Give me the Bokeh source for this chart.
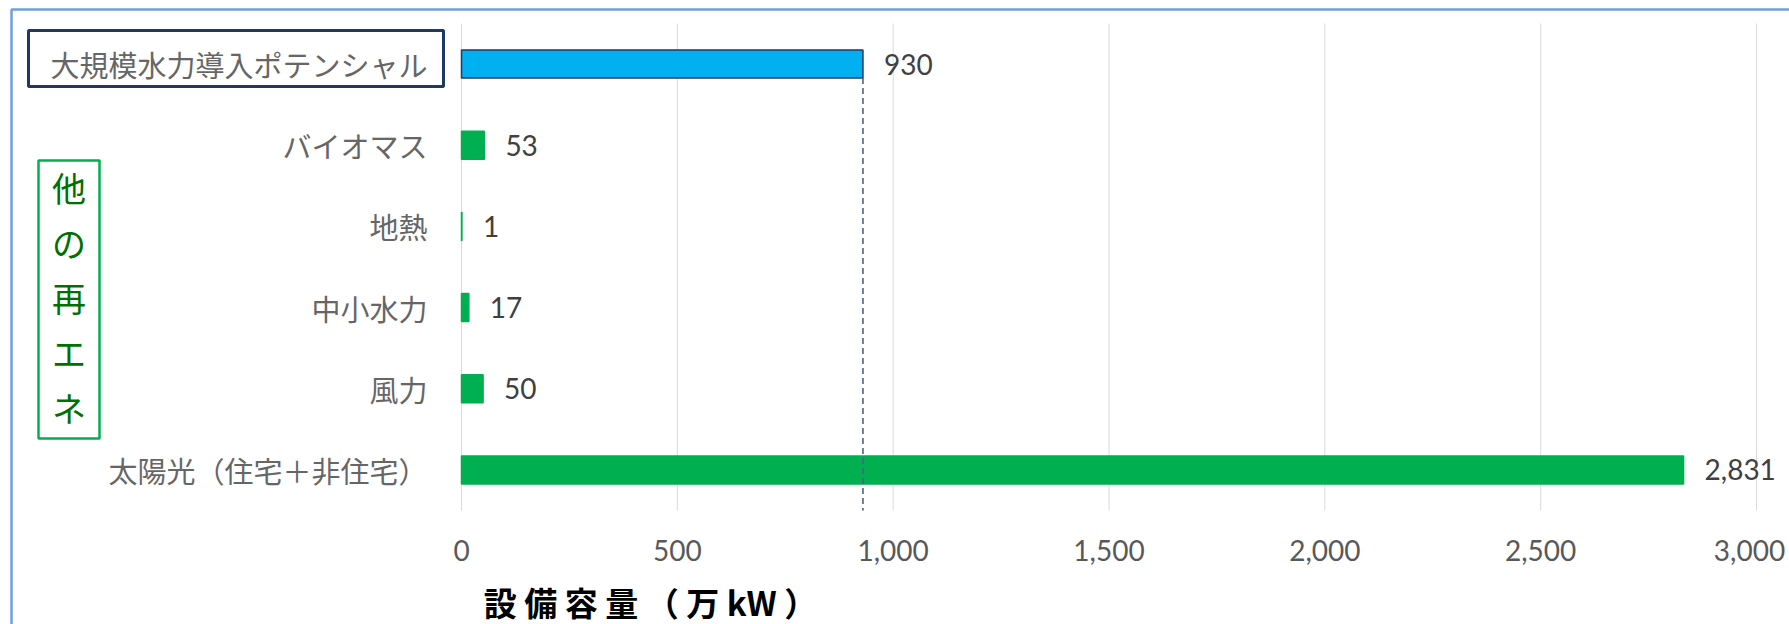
from bokeh.plotting import figure
from bokeh.models import ColumnDataSource, Range1d, LabelSet, Label, BoxAnnotation
from bokeh.core.properties import value
from bokeh.embed import file_html
from bokeh.resources import INLINE

# ---- data ----
categories = ["大規模水力導入ポテンシャル", "バイオマス", "地熱", "中小水力", "風力", "太陽光（住宅＋非住宅）"]
values = [930, 53, 1, 17, 50, 2831]
bar_colors = ["#00B0F0", "#00B050", "#00B050", "#00B050", "#00B050", "#00B050"]
x_ticks = [0, 500, 1000, 1500, 2000, 2500, 3000]
group_label = "他の再エネ"
x_title = "設 備 容 量 （ 万 kW ）"

# ---- layout constants (canvas pixels) ----
W, H = 1789, 624
FRAME_L, FRAME_R = 461, 1756      # pixel position of x=0 and x=3000
FRAME_T, FRAME_B = 23, 510        # top / bottom of plotting area
X_MAX = 3000
n = len(categories)
PX = (FRAME_R - FRAME_L) / X_MAX  # pixels per data unit
BAND = (FRAME_B - FRAME_T) / n    # pixels per category band


def dx(cx):
    """canvas x pixel -> data x"""
    return (cx - FRAME_L) / PX


def dy(cy):
    """canvas y pixel -> data y (category bands 0..n)"""
    return (FRAME_B - cy) / BAND


NUM_FONT = "Lato"
JP_FONT = "Noto Sans CJK JP"
BAR_H = 0.345

p = figure(width=W, height=H, output_backend="svg", toolbar_location=None,
           x_range=Range1d(dx(0), dx(W)), y_range=Range1d(dy(H), dy(0)),
           x_axis_type=None, y_axis_type=None,
           min_border=0, min_border_left=0, min_border_right=0,
           min_border_top=0, min_border_bottom=0)
p.outline_line_color = None
p.background_fill_color = "white"
p.border_fill_color = "white"

ypos = [n - 0.5 - i for i in range(n)]

src = ColumnDataSource(dict(
    y=ypos,
    cat=categories,
    val=values,
    color=bar_colors,
    line=["#1F3864"] + ["#00B050"] * (n - 1),
    lbl=[f"{v:,}" for v in values],
))

# vertical grid lines at the tick values
p.segment(x0=x_ticks, x1=x_ticks, y0=[0] * len(x_ticks), y1=[n] * len(x_ticks),
          line_color="#D9D9D9", line_width=1)

# x tick labels (the last one nudged left so it stays inside the chart edge)
tick_src = ColumnDataSource(dict(
    x=x_ticks,
    y=[dy(550)] * len(x_ticks),
    t=[f"{t:,}" for t in x_ticks],
    off=[0] * (len(x_ticks) - 1) + [-7],
))
p.text(x="x", y="y", text="t", source=tick_src, text_align="center",
       text_baseline="middle", x_offset="off",
       text_font=value(NUM_FONT), text_font_size="28px", text_color="#595959")

# category labels
p.text(x=dx(427), y="y", text="cat", source=src, text_align="right",
       text_baseline="middle", text_font=value(JP_FONT),
       text_font_size="29px", text_color="#666666")

# bars
p.hbar(y="y", left=0, right="val", height=BAR_H, fill_color="color",
       line_color="line", line_width=1.5, source=src)

# dashed reference line from the potential bar down to the axis
p.segment(x0=[values[0]], x1=[values[0]], y0=[ypos[0] - BAR_H / 2], y1=[0],
          line_color="#4F6180", line_width=1.6, line_dash="6 4")

# value labels
p.add_layout(LabelSet(x="val", y="y", text="lbl", source=src, x_offset=21,
                      text_align="left", text_baseline="middle",
                      text_font=value(NUM_FONT), text_font_size="28px",
                      text_color="#404040"))

# outer chart-area border (extends past right/bottom edges)
p.add_layout(BoxAnnotation(left=dx(11), right=dx(W + 40), top=dy(9), bottom=dy(H + 40),
                           fill_color=None, line_color="#6F9FDE", line_alpha=1,
                           line_width=2.5))
# box around the potential label
p.add_layout(BoxAnnotation(left=dx(28), right=dx(443), top=dy(30), bottom=dy(86),
                           fill_color=None, line_color="#1F3864", line_alpha=1,
                           line_width=3))
# green group box
p.add_layout(BoxAnnotation(left=dx(38), right=dx(99), top=dy(160), bottom=dy(438),
                           fill_color=None, line_color="#00B050", line_alpha=1,
                           line_width=2.5))
p.add_layout(Label(x=dx(68.5), y=dy(297), text="\n".join(group_label),
                   text_align="center", text_baseline="middle",
                   text_font=JP_FONT, text_font_size="34px",
                   text_line_height=1.12, text_color="#007000"))

# x-axis title (placed at the left, as in the reference)
p.add_layout(Label(x=dx(650), y=dy(601), text=x_title, text_align="center",
                   text_baseline="middle", text_font=JP_FONT,
                   text_font_size="33px", text_font_style="bold",
                   text_color="#000000"))

open("out.html", "w").write(file_html(p, INLINE))
